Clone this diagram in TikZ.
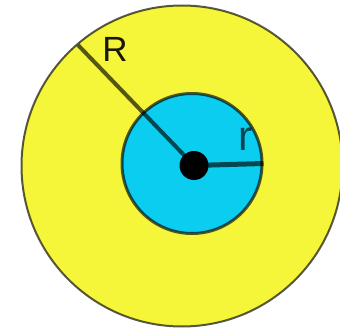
\documentclass[tikz,border=0pt]{standalone}
\usepackage{fontspec}
\setmainfont{Liberation Sans}
\definecolor{yel}{RGB}{245,245,58}
\definecolor{cya}{RGB}{10,205,240}
\begin{document}
\begin{tikzpicture}[x=1pt,y=-1pt,
  rim/.style={draw=black,draw opacity=0.65},
  radius line/.style={black,opacity=0.65},
  lbl/.style={inner sep=0pt,font=\fontsize{35}{35}\selectfont}]
\useasboundingbox (0,0) rectangle (340,329);
\node[circle,rim,fill=yel,line width=2pt,minimum size=321pt,inner sep=0pt] (outer) at (182,166) {};
\node[circle,rim,fill=cya,line width=3pt,minimum size=140pt,inner sep=0pt] (inner) at (192,163.5) {};
\coordinate (Rend) at (78,45);
\node[circle,fill=black,minimum size=29pt,inner sep=0pt] (dot) at (194,165.5) {};
\draw[radius line,line width=4pt] (dot.center) -- (Rend);
\draw[radius line,line width=5pt] (dot.center) -- (inner.east);
\node[lbl,black,opacity=0.9] (R) at (115,49) {R};
\node[lbl,black,opacity=0.65,font=\fontsize{42}{42}\selectfont] (r) at (245,139) {r};
\end{tikzpicture}
\end{document}
